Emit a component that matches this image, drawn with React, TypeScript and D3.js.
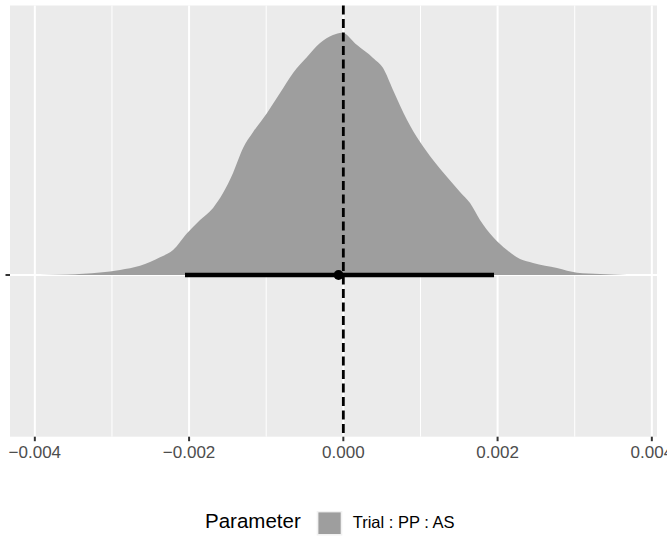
import React from "react";
import * as d3 from "d3";

// Posterior density of parameter (x in data units, density normalised to peak = 1)
const densityX = [
  -0.003935, -0.003583, -0.003155, -0.002895, -0.002636, -0.002377, -0.002208, -0.002027,
  -0.001858, -0.001689, -0.00156, -0.00143, -0.0013, -0.00117, -0.000989, -0.000821,
  -0.000652, -0.000471, -0.000302, -0.000134, -0.000017, 0.000178, 0.000385, 0.000515,
  0.000644, 0.000826, 0.000995, 0.001163, 0.001345, 0.001513, 0.001643, 0.001772,
  0.001941, 0.002122, 0.002291, 0.00246, 0.002771, 0.00303, 0.003328, 0.003678,
];
const densityY = [
  0, 0.002, 0.01, 0.021, 0.038, 0.073, 0.103, 0.172,
  0.227, 0.277, 0.338, 0.421, 0.524, 0.59, 0.669, 0.751,
  0.834, 0.9, 0.957, 0.99, 1.0, 0.949, 0.896, 0.854,
  0.764, 0.64, 0.549, 0.475, 0.404, 0.343, 0.297, 0.227,
  0.157, 0.103, 0.066, 0.05, 0.029, 0.0095, 0.004, 0,
];
const pointEstimate = -0.000062;
const intervalLow = -0.002053;
const intervalHigh = 0.001954;
const referenceLine = 0;
const majorTicks = [-0.004, -0.002, 0, 0.002, 0.004];
const minorTicks = [-0.003, -0.001, 0.001, 0.003];
const legendTitle = "Parameter";
const legendLabels = ["Trial : PP : AS"];

const W = 667;
const H = 536;
const panel = { left: 10, right: 657, top: 5.5, bottom: 436.7 };
const baseline = 275;
const peakY = 32.7;
const FONT = "'Liberation Sans', Arial, Helvetica, sans-serif";
const SLAB = "#9e9e9e";

export default function App() {
  const x = d3.scaleLinear().domain([-0.004322, 0.004067]).range([panel.left, panel.right]);
  const y = d3.scaleLinear().domain([0, 1]).range([baseline, peakY]);

  const pts = densityX.map((v, i) => [v, densityY[i]] as [number, number]);
  const area = d3
    .area<[number, number]>()
    .x((d) => x(d[0]))
    .y0(baseline)
    .y1((d) => y(d[1]))
    .curve(d3.curveMonotoneX);

  const fmt = (v: number) => d3.format(".3f")(v).replace("-", "\u2212");

  return (
    <svg
      width={W}
      height={H}
      style={{ position: "absolute", left: 0, top: 0, background: "#fff" }}
      fontFamily={FONT}
    >
      <rect x={0} y={0} width={W} height={H} fill="#fff" />
      <rect
        x={panel.left}
        y={panel.top}
        width={panel.right - panel.left}
        height={panel.bottom - panel.top}
        fill="#EBEBEB"
      />
      {minorTicks.map((t) => (
        <line key={"mi" + t} x1={x(t)} x2={x(t)} y1={panel.top} y2={panel.bottom} stroke="#fff" strokeWidth={1} />
      ))}
      {majorTicks.map((t) => (
        <line key={"ma" + t} x1={x(t)} x2={x(t)} y1={panel.top} y2={panel.bottom} stroke="#fff" strokeWidth={2} />
      ))}
      <line x1={panel.left} x2={panel.right} y1={baseline} y2={baseline} stroke="#fff" strokeWidth={2} />

      <path d={area(pts) || ""} fill={SLAB} />

      <line
        x1={x(intervalLow)}
        x2={x(intervalHigh)}
        y1={baseline}
        y2={baseline}
        stroke="#000"
        strokeWidth={4.7}
      />
      <circle cx={x(pointEstimate)} cy={baseline} r={4.9} fill="#000" />

      <line
        x1={x(referenceLine)}
        x2={x(referenceLine)}
        y1={panel.top}
        y2={panel.bottom}
        stroke="#000"
        strokeWidth={2.8}
        strokeDasharray="9,4.5"
      />

      {/* axes */}
      <line x1={5.5} x2={panel.left} y1={baseline} y2={baseline} stroke="#333" strokeWidth={2} />
      {majorTicks.map((t) => (
        <g key={"t" + t}>
          <line x1={x(t)} x2={x(t)} y1={panel.bottom} y2={panel.bottom + 4.5} stroke="#333" strokeWidth={2} />
          <text x={x(t)} y={457.5} textAnchor="middle" fontSize={17} fill="#4D4D4D">
            {fmt(t)}
          </text>
        </g>
      ))}

      {/* legend */}
      <text x={205} y={527.7} fontSize={20.5} fill="#000">
        {legendTitle}
      </text>
      {legendLabels.map((lab, i) => (
        <g key={lab}>
          <rect x={316.7} y={511} width={25.6} height={24.5} fill="#F2F2F2" />
          <rect x={318.4} y={512.4} width={22.3} height={21.6} fill={SLAB} />
          <text x={352.7} y={527.7 + i * 26} fontSize={16.5} fill="#000">
            {lab}
          </text>
        </g>
      ))}
    </svg>
  );
}
